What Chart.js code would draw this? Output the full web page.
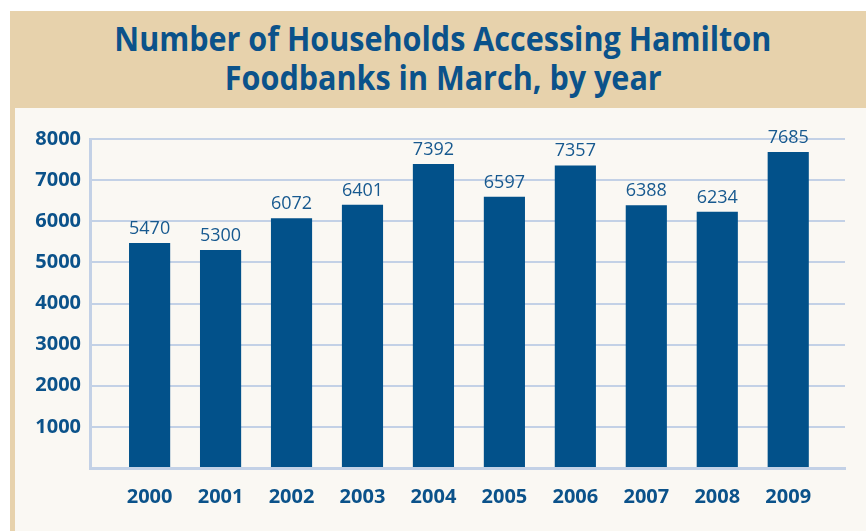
<!DOCTYPE html>
<html>
<head>
<meta charset="utf-8">
<script src="https://cdn.jsdelivr.net/npm/chart.js@4/dist/chart.umd.min.js"></script>
<style>
  html, body { margin:0; padding:0; background:#ffffff; width:866px; height:531px; overflow:hidden; }
  #band { position:absolute; left:10px; top:11px; width:856px; height:97px; background:#e7d2ac; }
  #strip { position:absolute; left:10px; top:108px; width:5px; height:423px; background:#e7d2ac; }
  #cream { position:absolute; left:15px; top:108px; width:851px; height:423px; background:#faf8f3; }
  .tline { position:absolute; left:0; width:886px; text-align:center; font-family:"Open Sans", sans-serif; font-weight:700;
           font-size:34px; line-height:39px; color:#0b528a; white-space:nowrap; }
  .tline span { display:inline-block; transform-origin:50% 50%; }
  #l1 { top:19px; }
  #l2 { top:58px; }
  #c { position:absolute; left:0; top:0; }
</style>
</head>
<body>
<div id="band"></div>
<div id="strip"></div>
<div id="cream"></div>
<div class="tline" id="l1"><span>Number of Households Accessing Hamilton</span></div>
<div class="tline" id="l2"><span>Foodbanks in March, by year</span></div>
<canvas id="c" width="866" height="531"></canvas>
<script>
const years = ["2000","2001","2002","2003","2004","2005","2006","2007","2008","2009"];
const households = [5470, 5300, 6072, 6401, 7392, 6597, 7357, 6388, 6234, 7685];
const yTicks = [1000, 2000, 3000, 4000, 5000, 6000, 7000, 8000];

// Condense title to match reference width
(function(){
  const s1 = document.querySelector('#l1 span');
  const s2 = document.querySelector('#l2 span');
  const w = s1.getBoundingClientRect().width;
  const k = 657 / w;
  s1.style.transform = 'scaleX(' + k + ')';
  s2.style.transform = 'scaleX(' + k + ')';
})();

const BLUE = '#02518a';
const GRID = '#c3d1e6';

const valueLabels = {
  id: 'valueLabels',
  afterDatasetsDraw(chart) {
    const ctx = chart.ctx;
    const meta = chart.getDatasetMeta(0);
    ctx.save();
    ctx.font = '18px "Open Sans", sans-serif';
    ctx.fillStyle = '#17598f';
    ctx.textAlign = 'center';
    ctx.textBaseline = 'alphabetic';
    meta.data.forEach((bar, i) => {
      ctx.fillText(String(households[i]), bar.x, bar.y - 9);
    });
    ctx.restore();
  }
};

new Chart(document.getElementById('c'), {
  type: 'bar',
  data: {
    datasets: [{
      data: households.map((v, i) => ({ x: i, y: v })),
      backgroundColor: BLUE,
      borderWidth: 0,
      barPercentage: 0.58,
      categoryPercentage: 1.0
    }]
  },
  options: {
    responsive: false,
    animation: false,
    devicePixelRatio: 1,
    layout: { padding: { left: 0, top: 139, right: 21, bottom: 0 } },
    plugins: { legend: { display: false }, title: { display: false }, tooltip: { enabled: false } },
    scales: {
      x: {
        type: 'linear',
        offset: false,
        bounds: 'data',
        min: -0.84,
        max: 9.80,
        afterBuildTicks(scale) { scale.ticks = years.map((_, i) => ({ value: i })); },
        afterFit(scale) { scale.height = 63; },
        grid: { display: false, drawTicks: false, offset: false },
        border: { display: true, color: GRID, width: 3 },
        ticks: {
          autoSkip: false,
          maxRotation: 0,
          padding: 17,
          color: '#0b528a',
          font: { family: '"Open Sans", sans-serif', size: 20, weight: 'bold' },
          callback: (v) => years[v]
        }
      },
      y: {
        min: 0,
        max: 8000,
        afterBuildTicks(scale) { scale.ticks = [0].concat(yTicks).map(v => ({ value: v })); },
        afterFit(scale) { scale.width = 90; },
        grid: { color: GRID, lineWidth: 2, drawTicks: false },
        border: { display: true, color: GRID, width: 3 },
        ticks: {
          padding: 9,
          color: '#0b528a',
          font: { family: '"Open Sans", sans-serif', size: 20, weight: 'bold' },
          callback: (v) => v === 0 ? '' : String(v)
        }
      }
    }
  },
  plugins: [valueLabels]
});
</script>
</body>
</html>
